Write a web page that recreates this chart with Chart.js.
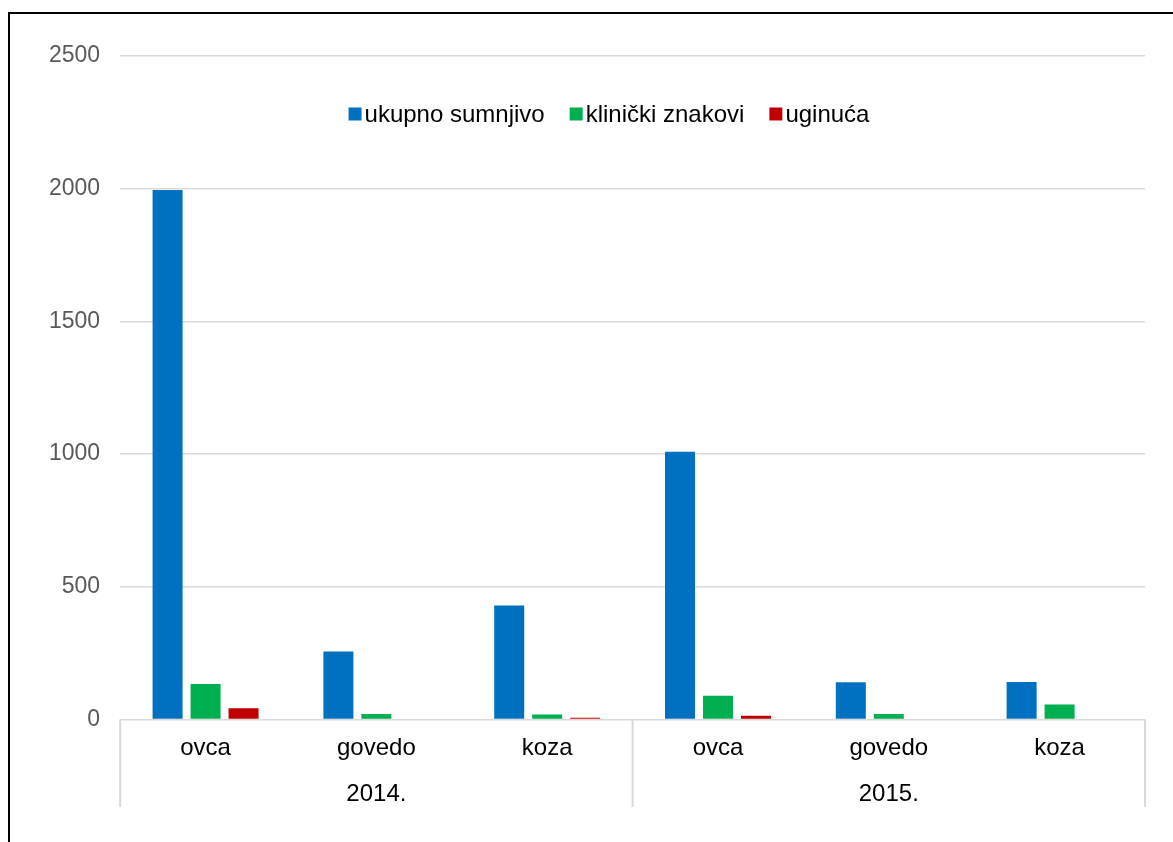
<!DOCTYPE html>
<html>
<head>
<meta charset="utf-8">
<title>ukupno sumnjivo / klinički znakovi / uginuća</title>
<script src="https://cdn.jsdelivr.net/npm/chart.js@4.4.1/dist/chart.umd.min.js"></script>
<style>
    html, body { margin: 0; padding: 0; background: #fff; overflow: hidden; }
    #frame { position: absolute; left: 8px; top: 12px; width: 1220px; height: 900px; border: 2px solid #000; box-sizing: border-box; }
    #wrap { position: absolute; left: 0; top: 0; width: 1173px; height: 842px; }
</style>
</head>
<body>
<div id="frame"></div>
<div id="wrap"><canvas id="chart"></canvas></div>
<script>
// --- podaci ---
const categories = ['ovca', 'govedo', 'koza', 'ovca', 'govedo', 'koza'];
const years = ['2014.', '2015.'];
const seriesNames = ['ukupno sumnjivo', 'klinički znakovi', 'uginuća'];
const ukupnoSumnjivo = [1995, 256, 429, 1009, 140, 141];
const klinickiZnakovi = [133, 20, 18, 89, 20, 56];
const uginuca = [42, 0, 6, 14, 0, 0];
const yMin = 0, yMax = 2500, yStep = 500;

const colors = ['#0070C0', '#00B050', '#C00000'];
const FONT = "'Liberation Sans', Arial, sans-serif";

// okomite crte izmedju godina (ispod osi)
const groupLines = {
    id: 'groupLines',
    afterDraw(chart) {
        const x = chart.scales.x, yr = chart.scales.year;
        const ctx = chart.ctx;
        const mid = (x.getPixelForValue(2) + x.getPixelForValue(3)) / 2;
        ctx.save();
        ctx.strokeStyle = '#d9d9d9';
        ctx.lineWidth = 2;
        [x.left, mid, x.right].forEach(px => {
            ctx.beginPath();
            ctx.moveTo(px, chart.chartArea.bottom);
            ctx.lineTo(px, yr.bottom - 4);
            ctx.stroke();
        });
        ctx.restore();
    }
};

// legenda unutar područja grafa
const innerLegend = {
    id: 'innerLegend',
    afterDraw(chart, args, opts) {
        const ctx = chart.ctx;
        ctx.save();
        ctx.font = opts.fontSize + 'px ' + FONT;
        ctx.textBaseline = 'middle';
        const items = chart.data.datasets.map(ds => ({ text: ds.label, color: ds.backgroundColor, w: ctx.measureText(ds.label).width }));
        const total = items.reduce((s, it) => s + opts.box + opts.gap + it.w, 0) + opts.spacing * (items.length - 1);
        let x = opts.centerX - total / 2;
        items.forEach(it => {
            ctx.fillStyle = it.color;
            ctx.fillRect(x, opts.y - opts.box / 2, opts.box, opts.box);
            ctx.fillStyle = '#000';
            ctx.fillText(it.text, x + opts.box + opts.gap, opts.y + 1);
            x += opts.box + opts.gap + it.w + opts.spacing;
        });
        ctx.restore();
    }
};

new Chart(document.getElementById('chart'), {
    type: 'bar',
    data: {
        labels: categories,
        datasets: [
            { label: seriesNames[0], data: ukupnoSumnjivo, backgroundColor: colors[0] },
            { label: seriesNames[1], data: klinickiZnakovi, backgroundColor: colors[1] },
            { label: seriesNames[2], data: uginuca, backgroundColor: colors[2] }
        ]
    },
    options: {
        responsive: true,
        maintainAspectRatio: false,
        animation: false,
        categoryPercentage: 0.667,
        barPercentage: 0.79,
        layout: { padding: { left: 29, right: 28, top: 56, bottom: 31 } },
        plugins: {
            legend: { display: false },
            tooltip: { enabled: false },
            innerLegend: { centerX: 609, y: 114, box: 13, gap: 3, spacing: 25, fontSize: 24 }
        },
        scales: {
            y: {
                min: yMin, max: yMax,
                ticks: { stepSize: yStep, color: '#595959', font: { family: FONT, size: 23 }, padding: 20, callback: v => String(v) },
                grid: { color: '#d9d9d9', lineWidth: 1.5, drawTicks: false },
                border: { display: false }
            },
            x: {
                grid: { display: false, drawTicks: false },
                border: { display: false },
                ticks: { color: '#000', font: { family: FONT, size: 24 }, padding: 15, maxRotation: 0 }
            },
            year: {
                type: 'category',
                labels: years,
                position: 'bottom',
                offset: true,
                grid: { display: false, drawTicks: false },
                border: { display: false },
                ticks: { color: '#000', font: { family: FONT, size: 24 }, padding: 2, maxRotation: 0 }
            }
        }
    },
    plugins: [groupLines, innerLegend]
});
</script>
</body>
</html>
